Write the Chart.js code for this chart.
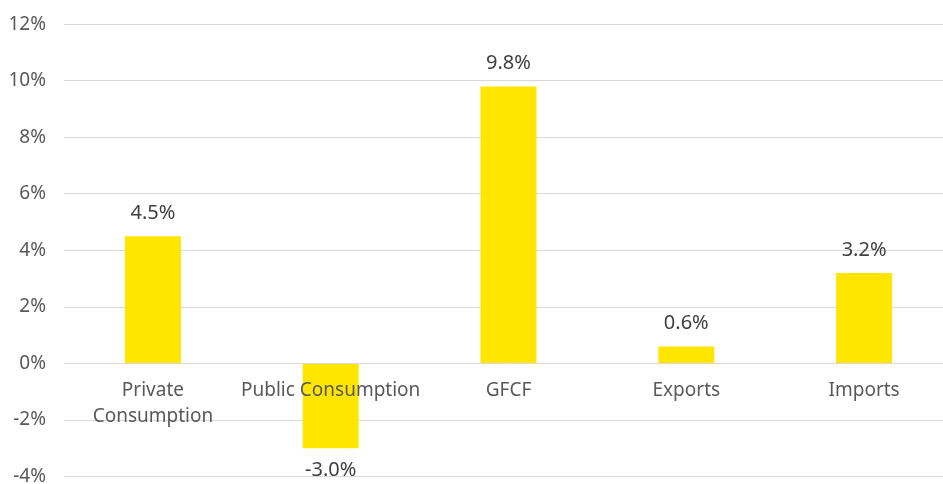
<!DOCTYPE html>
<html>
<head>
<meta charset="utf-8">
<script src="https://cdn.jsdelivr.net/npm/chart.js@4"></script>
<style>
  html, body { margin: 0; padding: 0; background: #fff; overflow: hidden; }
  #wrap { position: relative; width: 953px; height: 511px; margin-top: -5px; }
</style>
</head>
<body>
<div id="wrap"><canvas id="growthChart"></canvas></div>
<script>
// Real growth by GDP component, %
const categories = [['Private', 'Consumption'], 'Public Consumption', 'GFCF', 'Exports', 'Imports'];
const growth = [4.5, -3.0, 9.8, 0.6, 3.2];
const valueLabels = ['4.5%', '-3.0%', '9.8%', '0.6%', '3.2%'];

const BAR_YELLOW = '#FFE600';
const FONT = '"Noto Sans", sans-serif';

// Value labels above positive bars / below negative ones, then the
// category names hung just under the zero line (on top of the bars)
const barTextPlugin = {
  id: 'barText',
  afterDatasetsDraw(chart) {
    const { ctx, scales } = chart;
    const meta = chart.getDatasetMeta(0);
    const zeroY = scales.y.getPixelForValue(0);
    ctx.save();
    ctx.textAlign = 'center';
    ctx.textBaseline = 'middle';

    ctx.font = '20px ' + FONT;
    ctx.fillStyle = '#404040';
    meta.data.forEach((bar, i) => {
      const y = growth[i] >= 0 ? bar.y - 23 : bar.y + 22;
      ctx.fillText(valueLabels[i], bar.x, y);
    });

    ctx.font = '19px ' + FONT;
    ctx.fillStyle = '#595959';
    categories.forEach((label, i) => {
      const x = scales.x.getPixelForValue(i);
      const lines = Array.isArray(label) ? label : [label];
      lines.forEach((line, j) => {
        ctx.fillText(line, x, zeroY + 27 + j * 26);
      });
    });
    ctx.restore();
  }
};

new Chart(document.getElementById('growthChart'), {
  type: 'bar',
  data: {
    labels: categories,
    datasets: [{
      data: growth,
      backgroundColor: BAR_YELLOW,
      barPercentage: 1,
      categoryPercentage: 0.315
    }]
  },
  options: {
    responsive: true,
    maintainAspectRatio: false,
    animation: false,
    layout: { padding: { left: 10, top: 18, right: 0, bottom: 0 } },
    plugins: {
      legend: { display: false },
      tooltip: { enabled: false }
    },
    scales: {
      x: {
        display: false
      },
      y: {
        min: -4,
        max: 12,
        grid: { color: '#d9d9d9', lineWidth: 1, drawTicks: false },
        border: { display: false },
        ticks: {
          stepSize: 2,
          color: '#595959',
          padding: 18,
          font: { family: FONT, size: 19, lineHeight: 1.2 },
          callback: v => v + '%'
        },
        afterFit(scale) {
          scale.width = 54;
        }
      }
    }
  },
  plugins: [barTextPlugin]
});
</script>
</body>
</html>
